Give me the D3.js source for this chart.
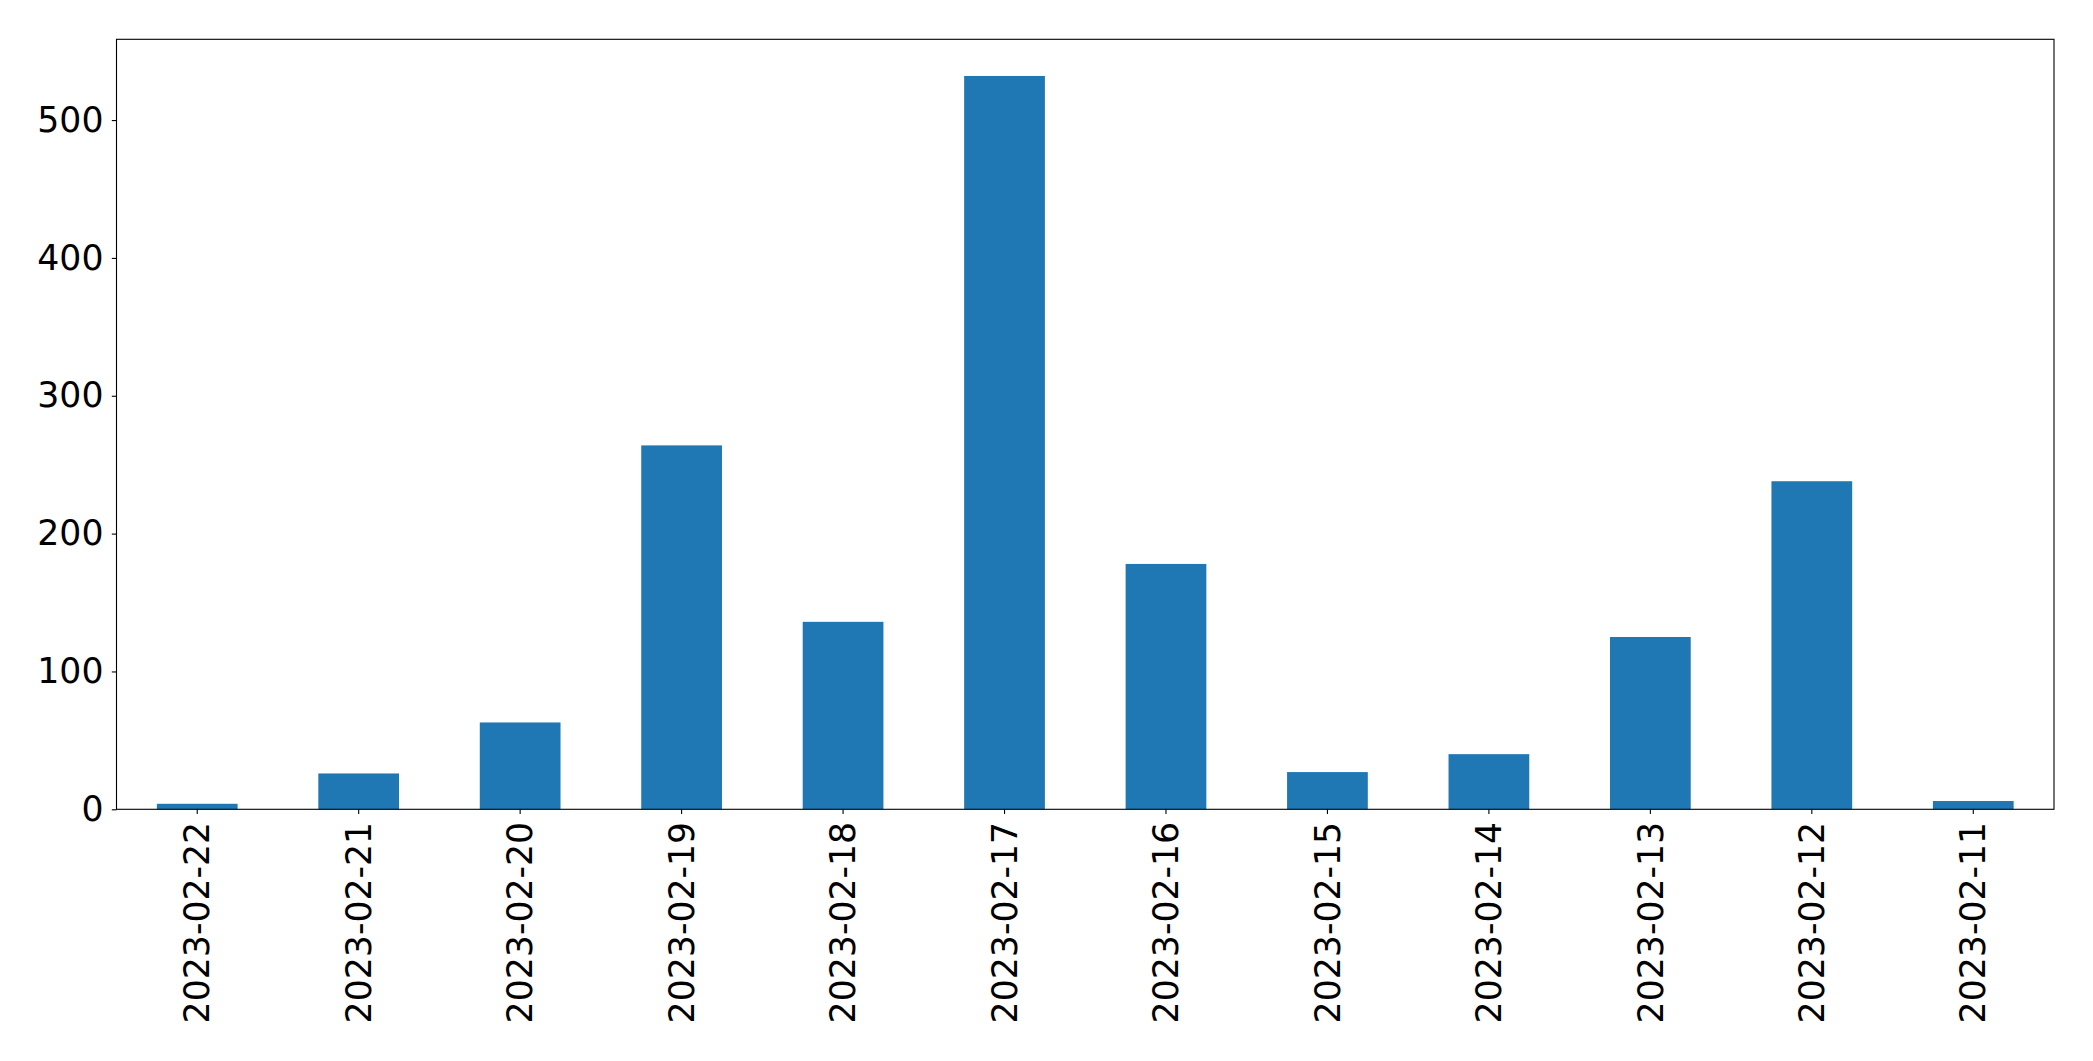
<!DOCTYPE html>
<html>
<head>
<meta charset="utf-8">
<script src="https://cdn.jsdelivr.net/npm/d3@7"></script>
<style>
  html, body { margin: 0; padding: 0; background: #fff; }
  svg { display: block; }
  text { font-family: "DejaVu Sans", sans-serif; fill: #000; }
</style>
</head>
<body>
<script>
const categories = ["2023-02-22","2023-02-21","2023-02-20","2023-02-19","2023-02-18","2023-02-17","2023-02-16","2023-02-15","2023-02-14","2023-02-13","2023-02-12","2023-02-11"];
const values = [4, 26, 63, 264, 136, 532, 178, 27, 40, 125, 238, 6];
const yTicks = [0, 100, 200, 300, 400, 500];

const W = 2093, H = 1061;
const margin = {left: 116.5, right: W - 2054, top: 39.3, bottom: H - 809.3};
const svg = d3.select("body").append("svg").attr("width", W).attr("height", H);

const x = d3.scaleBand().domain(categories)
  .range([margin.left, W - margin.right]).paddingInner(0.5).paddingOuter(0.25);
const yMax = d3.max(values) * 1.05;
const y = d3.scaleLinear().domain([0, yMax]).range([H - margin.bottom, margin.top]);

svg.append("g").selectAll("rect").data(values).join("rect")
  .attr("x", (d, i) => x(categories[i]))
  .attr("width", x.bandwidth())
  .attr("y", d => y(d))
  .attr("height", d => y(0) - y(d))
  .attr("fill", "#1f77b4");

const fs = 34.7;
const yAxis = svg.append("g").attr("transform", `translate(${margin.left},0)`)
  .call(d3.axisLeft(y).tickValues(yTicks).tickSize(4.7).tickPadding(8.3).tickFormat(d3.format("d")));
yAxis.select(".domain").remove();
yAxis.selectAll("line").attr("stroke", "#000").attr("stroke-width", 1.1);
yAxis.selectAll("text").attr("font-size", fs).attr("font-family", "DejaVu Sans");

const xAxis = svg.append("g").attr("transform", `translate(0,${H - margin.bottom})`)
  .call(d3.axisBottom(x).tickSize(4.7).tickPadding(0));
xAxis.select(".domain").remove();
xAxis.selectAll("line").attr("stroke", "#000").attr("stroke-width", 1.1);
xAxis.selectAll("text")
  .attr("font-size", fs).attr("font-family", "DejaVu Sans")
  .attr("transform", "rotate(-90)")
  .attr("text-anchor", "end")
  .attr("x", -12.5)
  .attr("y", 0)
  .attr("dy", "0.35em");

svg.append("rect")
  .attr("x", margin.left).attr("y", margin.top)
  .attr("width", W - margin.right - margin.left)
  .attr("height", H - margin.bottom - margin.top)
  .attr("fill", "none").attr("stroke", "#000").attr("stroke-width", 1.1);
</script>
</body>
</html>
